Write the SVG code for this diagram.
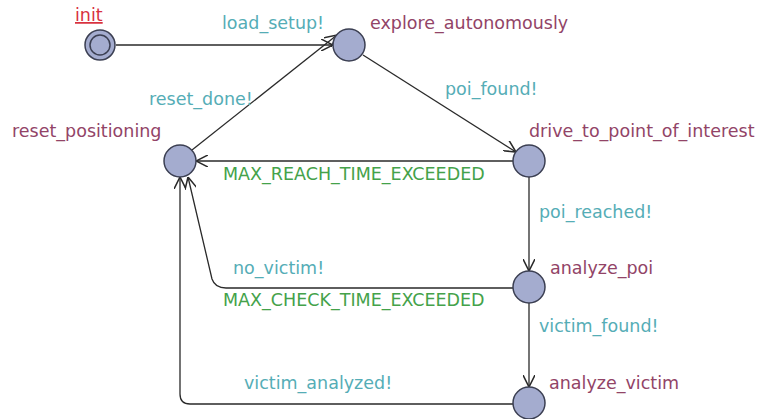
<svg xmlns="http://www.w3.org/2000/svg" width="765" height="419" viewBox="0 0 765 419">
<style>
.node{fill:#a4accf;stroke:#3b3f52;stroke-width:1.5}
.edge{fill:none;stroke:#2a2a2a;stroke-width:1.3}
text{font-family:"DejaVu Sans","Liberation Sans",sans-serif;font-size:17.5px}
.loc{fill:#924467}
.sync{fill:#55adb6}
.guard{fill:#44a24a}
.init{fill:#d8323f;text-decoration:underline}
</style>
<defs>
<marker id="arr" markerWidth="12" markerHeight="12" refX="10" refY="5" orient="auto" markerUnits="userSpaceOnUse" viewBox="0 0 10 10">
<path d="M0,0 L10,5 L0,10" fill="none" stroke="#2a2a2a" stroke-width="1.3"/>
</marker>
</defs>
<rect width="765" height="419" fill="#fff"/>
<g id="edges">
<path class="edge" d="M116,45 L333,45" marker-end="url(#arr)"/>
<path class="edge" d="M192,150 L337,35" marker-end="url(#arr)"/>
<path class="edge" d="M363,55 L516,152" marker-end="url(#arr)"/>
<path class="edge" d="M513,161 L196,161" marker-end="url(#arr)"/>
<path class="edge" d="M529,177 L529,271" marker-end="url(#arr)"/>
<path class="edge" d="M529,303 L529,387" marker-end="url(#arr)"/>
<path class="edge" d="M513,288 L226,288 Q215,288 212,279 L188,177" marker-end="url(#arr)"/>
<path class="edge" d="M513,404 L190,404 Q180,404 180,394 L180,177" marker-end="url(#arr)"/>
<text class="sync" x="222" y="29">load_setup!</text>
<text class="sync" x="149" y="105">reset_done!</text>
<text class="sync" x="445" y="95">poi_found!</text>
<text class="guard" x="223" y="180">MAX_REACH_TIME_EXCEEDED</text>
<text class="sync" x="539" y="218">poi_reached!</text>
<text class="sync" x="233" y="274">no_victim!</text>
<text class="guard" x="223" y="306">MAX_CHECK_TIME_EXCEEDED</text>
<text class="sync" x="539" y="332">victim_found!</text>
<text class="sync" x="244" y="389">victim_analyzed!</text>
</g>
<g id="init">
<circle class="node" cx="100" cy="45" r="15"/>
<circle class="node" cx="100" cy="45" r="10"/>
<text class="init" x="75" y="21">init</text>
</g>
<g id="explore_autonomously">
<circle class="node" cx="349" cy="45" r="16"/>
<text class="loc" x="370" y="29">explore_autonomously</text>
</g>
<g id="reset_positioning">
<circle class="node" cx="180" cy="161" r="16"/>
<text class="loc" x="12" y="137">reset_positioning</text>
</g>
<g id="drive_to_point_of_interest">
<circle class="node" cx="529" cy="161" r="16"/>
<text class="loc" x="529" y="137">drive_to_point_of_interest</text>
</g>
<g id="analyze_poi">
<circle class="node" cx="529" cy="287" r="16"/>
<text class="loc" x="550" y="274">analyze_poi</text>
</g>
<g id="analyze_victim">
<circle class="node" cx="529" cy="403" r="16"/>
<text class="loc" x="549" y="389">analyze_victim</text>
</g>
</svg>
